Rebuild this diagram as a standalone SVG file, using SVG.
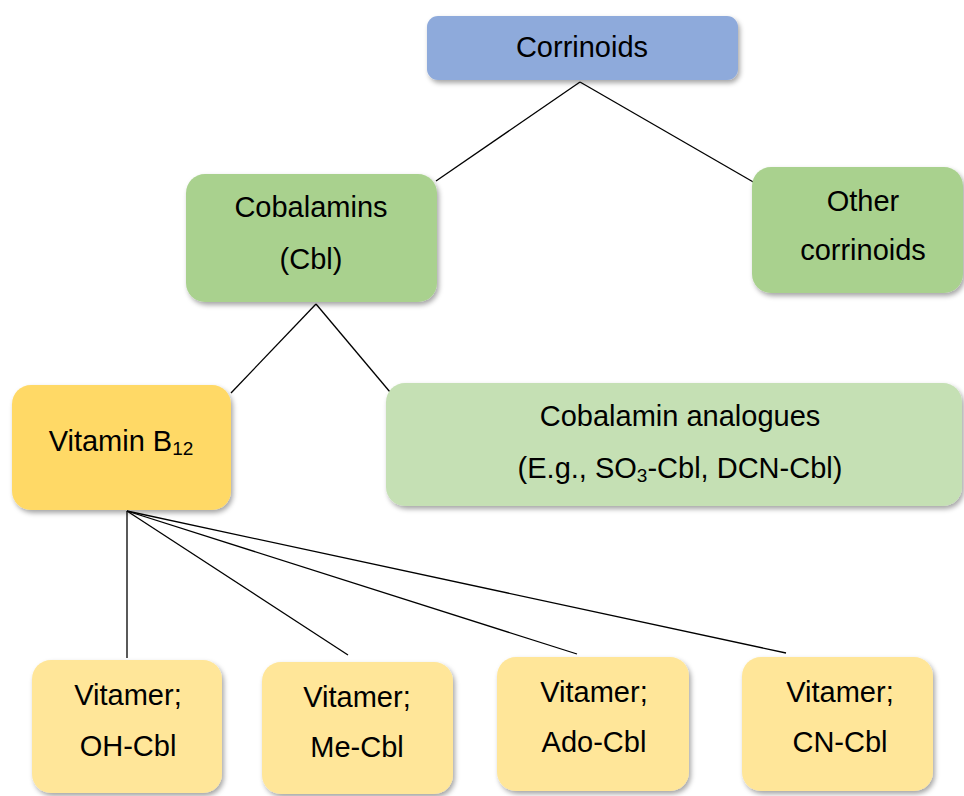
<svg xmlns="http://www.w3.org/2000/svg" width="964" height="796" viewBox="0 0 964 796">
<defs>
<filter id="sh" x="-10%" y="-10%" width="125%" height="130%">
<feDropShadow dx="2" dy="3" stdDeviation="2.5" flood-color="#000" flood-opacity="0.35"/>
</filter>
<style>
text{font-family:"Liberation Sans",Arial,sans-serif;font-size:29px;fill:#000;text-anchor:middle}
.sub{font-size:19px}
.blue{fill:#8eaadb}
.green{fill:#a9d18e}
.lgreen{fill:#c5e0b4}
.gold{fill:#ffd966}
.lgold{fill:#ffe699}
.box{filter:url(#sh)}
#connectors line{stroke:#000;stroke-width:1.3}
</style>
</defs>
<rect width="964" height="796" fill="#fff"/>
<g id="connectors">
<line x1="580" y1="82" x2="436" y2="181"/>
<line x1="580" y1="82" x2="755" y2="183"/>
<line x1="316" y1="304" x2="231" y2="393"/>
<line x1="316" y1="304" x2="390" y2="392"/>
<line x1="127" y1="511" x2="127" y2="658"/>
<line x1="127" y1="511" x2="348" y2="655"/>
<line x1="127" y1="511" x2="577" y2="654"/>
<line x1="127" y1="511" x2="786" y2="653"/>
</g>
<g id="corrinoids">
<rect class="box blue" x="427" y="16" width="311" height="64" rx="11"/>
<text x="582" y="57">Corrinoids</text>
</g>
<g id="cobalamins">
<rect class="box green" x="186" y="174" width="251" height="128" rx="19"/>
<text x="311" y="217">Cobalamins</text>
<text x="311" y="269">(Cbl)</text>
</g>
<g id="other">
<rect class="box green" x="752" y="167" width="211" height="126" rx="19"/>
<text x="863" y="211">Other</text>
<text x="863" y="260">corrinoids</text>
</g>
<g id="vitaminb12">
<rect class="box gold" x="12" y="385" width="219" height="125" rx="19"/>
<text x="121" y="451">Vitamin B<tspan class="sub" dy="4">12</tspan></text>
</g>
<g id="analogues">
<rect class="box lgreen" x="386" y="383" width="576" height="123" rx="19"/>
<text x="680" y="426">Cobalamin analogues</text>
<text x="680" y="478">(E.g., SO<tspan class="sub" dy="4">3</tspan><tspan dy="-4">-Cbl, DCN-Cbl)</tspan></text>
</g>
<g id="ohcbl">
<rect class="box lgold" x="32" y="660" width="190" height="133" rx="19"/>
<text x="128" y="705">Vitamer;</text>
<text x="128" y="756">OH-Cbl</text>
</g>
<g id="mecbl">
<rect class="box lgold" x="262" y="662" width="191" height="132" rx="19"/>
<text x="357" y="707">Vitamer;</text>
<text x="357" y="757">Me-Cbl</text>
</g>
<g id="adocbl">
<rect class="box lgold" x="497" y="657" width="192" height="134" rx="19"/>
<text x="594" y="702">Vitamer;</text>
<text x="594" y="752">Ado-Cbl</text>
</g>
<g id="cncbl">
<rect class="box lgold" x="742" y="657" width="191" height="134" rx="19"/>
<text x="840" y="702">Vitamer;</text>
<text x="840" y="752">CN-Cbl</text>
</g>
</svg>
